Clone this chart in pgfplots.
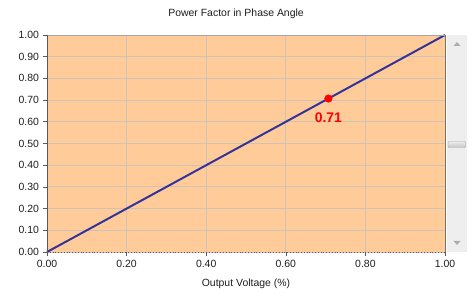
\documentclass[border=0pt]{standalone}
\usepackage{pgfplots}
\pgfplotsset{compat=1.18}
\usepackage{fontspec}
\setmainfont{Liberation Sans}
\definecolor{peach}{RGB}{255,204,153}
\definecolor{gridc}{RGB}{205,195,185}
\definecolor{lineblue}{RGB}{51,51,153}
\definecolor{axdark}{RGB}{90,90,90}
\definecolor{txt}{RGB}{30,30,30}
\definecolor{sbar}{RGB}{238,238,238}
\begin{document}
\begin{tikzpicture}
\path[use as bounding box] (-47bp,-42bp) rectangle (425bp,252bp);
\begin{axis}[
  at={(0,0)}, anchor=south west,
  scale only axis, width=398bp, height=217bp,
  xmin=0, xmax=1, ymin=0, ymax=1,
  xtick={0,0.2,...,1.0}, ytick={0,0.1,...,1.0},
  axis background/.style={fill=peach},
  grid=major, major grid style={gridc, line width=0.8bp},
  axis line style={draw=none},
  tick align=outside, xtick pos=bottom, ytick pos=left,
  major tick length=4bp, tick style={axdark, line width=0.6bp},
  /pgf/number format/.cd, fixed, fixed zerofill, precision=2, assume math mode=true,
  /pgfplots/.cd,
  ticklabel style={font=\fontsize{10.5}{12}\selectfont, text=txt},
  xticklabel style={yshift=-0.5bp},
  yticklabel style={xshift=-0.5bp},
  title={Power Factor in Phase Angle},
  every axis title shift=0pt,
  title style={at={(axis description cs:0.475,1)}, anchor=center, yshift=21bp, font=\fontsize{10.5}{12}\selectfont, text=txt},
  xlabel={Output Voltage (\%)},
  xlabel style={at={(axis description cs:0.5,0)}, anchor=center, yshift=-32bp, font=\fontsize{10.5}{12}\selectfont, text=txt},
  clip=false,
]
\addplot[lineblue, line width=2bp] coordinates {(0,0) (1,1)};
\addplot[only marks, mark=*, mark size=3.8bp, red, mark options={fill=red, draw=red}] coordinates {(0.7071,0.7071)}
  node[below=10.5bp, font=\fontsize{14}{16}\selectfont\bfseries, text=red] {0.71};
\draw[gray!70, line width=0.6bp] (rel axis cs:0,1) -- (rel axis cs:1,1);
\draw[axdark!80!peach, line width=0.8bp] (rel axis cs:1,0) -- (rel axis cs:1,1);
\draw[axdark, line width=0.8bp] (rel axis cs:0,0) -- (rel axis cs:0,1);
\draw[axdark, line width=0.8bp, dotted] (rel axis cs:0,0) -- (rel axis cs:1,0);
\end{axis}
% scrollbar
\fill[sbar] (399.5bp,0bp) rectangle (420bp,217bp);
\fill[gray!65] (410bp,210bp) -- (406.5bp,206bp) -- (413.5bp,206bp) -- cycle;
\fill[gray!65] (410bp,7bp) -- (406.5bp,11bp) -- (413.5bp,11bp) -- cycle;
\shade[top color=gray!15, bottom color=gray!45, draw=gray!70, rounded corners=1bp] (401bp,104.5bp) rectangle (418.5bp,110.5bp);
\end{tikzpicture}
\end{document}
